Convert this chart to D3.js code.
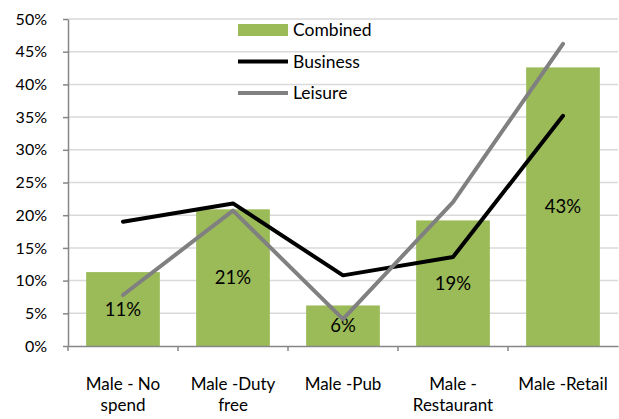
<!DOCTYPE html>
<html>
<head>
<meta charset="utf-8">
<script src="https://cdn.jsdelivr.net/npm/d3@7"></script>
<style>
  body { margin: 0; background: #fff; }
  svg { display: block; font-family: Lato, "Open Sans", sans-serif; }
</style>
</head>
<body>
<div id="chart"></div>
<script>
// data
const categories = ['Male - No spend', 'Male -Duty free', 'Male -Pub', 'Male - Restaurant', 'Male -Retail'];
const categoryLines = [['Male - No', 'spend'], ['Male -Duty', 'free'], ['Male -Pub'], ['Male -', 'Restaurant'], ['Male -Retail']];
const combined = [0.113, 0.209, 0.062, 0.192, 0.426];
const business = [0.190, 0.218, 0.108, 0.136, 0.352];
const leisure = [0.078, 0.207, 0.041, 0.220, 0.462];
const yTicks = [0, 0.05, 0.10, 0.15, 0.20, 0.25, 0.30, 0.35, 0.40, 0.45, 0.50];

const width = 619, height = 419;
const margin = { top: 19, right: 1, bottom: 73, left: 68 };
const innerWidth = width - margin.left - margin.right;
const innerHeight = height - margin.top - margin.bottom;

const colors = { combined: '#9bbb59', business: '#000000', leisure: '#808080', grid: '#d9d9d9', axis: '#868686' };

const svg = d3.select('#chart')
  .append('svg')
  .attr('width', width)
  .attr('height', height);

const g = svg.append('g')
  .attr('transform', `translate(${margin.left}, ${margin.top})`);

// scales
const x = d3.scaleBand()
  .domain(categories)
  .range([0, innerWidth])
  .paddingInner(0.33)
  .paddingOuter(0.165);

const xBand = d3.scaleBand()
  .domain(categories)
  .range([0, innerWidth]);

const y = d3.scaleLinear()
  .domain([0, 0.5])
  .range([innerHeight, 0]);

const cx = d => xBand(d) + xBand.bandwidth() / 2;

// gridlines
g.selectAll('.grid')
  .data(yTicks.slice(1))
  .enter()
  .append('line')
  .attr('x1', 0)
  .attr('x2', innerWidth)
  .attr('y1', d => y(d))
  .attr('y2', d => y(d))
  .attr('stroke', colors.grid)
  .attr('stroke-width', 1.5);

// bars
g.selectAll('.bar')
  .data(combined)
  .enter()
  .append('rect')
  .attr('x', (d, i) => x(categories[i]))
  .attr('y', d => y(d))
  .attr('width', x.bandwidth())
  .attr('height', d => innerHeight - y(d))
  .attr('fill', colors.combined);

// bar labels
g.selectAll('.bar-label')
  .data(combined)
  .enter()
  .append('text')
  .attr('x', (d, i) => cx(categories[i]))
  .attr('y', d => (y(d) + innerHeight) / 2)
  .attr('dy', '0.35em')
  .attr('text-anchor', 'middle')
  .style('font-size', '18.5px')
  .attr('fill', '#000')
  .text(d => d3.format('.0%')(d));

// lines
const line = d3.line()
  .x((d, i) => cx(categories[i]))
  .y(d => y(d));

g.append('path')
  .datum(business)
  .attr('d', line)
  .attr('fill', 'none')
  .attr('stroke', colors.business)
  .attr('stroke-width', 4)
  .attr('stroke-linecap', 'round')
  .attr('stroke-linejoin', 'round');

g.append('path')
  .datum(leisure)
  .attr('d', line)
  .attr('fill', 'none')
  .attr('stroke', colors.leisure)
  .attr('stroke-width', 4)
  .attr('stroke-linecap', 'round')
  .attr('stroke-linejoin', 'round');

// y axis
const yAxis = g.append('g')
  .call(d3.axisLeft(y).tickValues(yTicks).tickFormat(d3.format('.0%')).tickSize(5).tickSizeOuter(0));
yAxis.select('.domain').attr('stroke', colors.axis).attr('stroke-width', 1.5);
yAxis.selectAll('.tick line').attr('stroke', colors.axis).attr('stroke-width', 1.5);
yAxis.selectAll('.tick text')
  .attr('x', -21)
  .style('font-size', '16px')
  .style('font-family', 'Lato, "Open Sans", sans-serif')
  .attr('fill', '#000');

// x axis
const xAxis = g.append('g')
  .attr('transform', `translate(0, ${innerHeight})`)
  .call(d3.axisBottom(xBand).tickSize(0).tickSizeOuter(0).tickFormat(''));
xAxis.select('.domain').attr('stroke', colors.axis).attr('stroke-width', 1.5);
xAxis.selectAll('.tick').remove();

g.selectAll('.xtick')
  .data(d3.range(categories.length))
  .enter()
  .append('line')
  .attr('x1', i => xBand(categories[i]))
  .attr('x2', i => xBand(categories[i]))
  .attr('y1', innerHeight)
  .attr('y2', innerHeight + 5)
  .attr('stroke', colors.axis)
  .attr('stroke-width', 1.5);

const xl = g.selectAll('.xlabel')
  .data(categoryLines)
  .enter()
  .append('text')
  .attr('text-anchor', 'middle')
  .attr('transform', (d, i) => `translate(${cx(categories[i])}, ${innerHeight + 44})`)
  .style('font-size', '17px')
  .attr('fill', '#000');

xl.selectAll('tspan')
  .data(d => d)
  .enter()
  .append('tspan')
  .attr('x', 0)
  .attr('dy', (d, i) => i === 0 ? 0 : 21)
  .text(d => d);

// legend
const legendItems = [
  { name: 'Combined', type: 'rect', color: colors.combined },
  { name: 'Business', type: 'line', color: colors.business },
  { name: 'Leisure', type: 'line', color: colors.leisure }
];

const legend = svg.append('g')
  .attr('transform', 'translate(238, 30)');

const li = legend.selectAll('.legend-item')
  .data(legendItems)
  .enter()
  .append('g')
  .attr('transform', (d, i) => `translate(0, ${i * 31.5})`);

li.filter(d => d.type === 'rect')
  .append('rect')
  .attr('x', 0)
  .attr('y', -6)
  .attr('width', 50)
  .attr('height', 12)
  .attr('fill', d => d.color);

li.filter(d => d.type === 'line')
  .append('line')
  .attr('x1', 0)
  .attr('x2', 50)
  .attr('y1', 0)
  .attr('y2', 0)
  .attr('stroke', d => d.color)
  .attr('stroke-width', 4);

li.append('text')
  .attr('x', 55)
  .attr('dy', '0.35em')
  .style('font-size', '17.5px')
  .attr('fill', '#000')
  .text(d => d.name);
</script>
</body>
</html>
